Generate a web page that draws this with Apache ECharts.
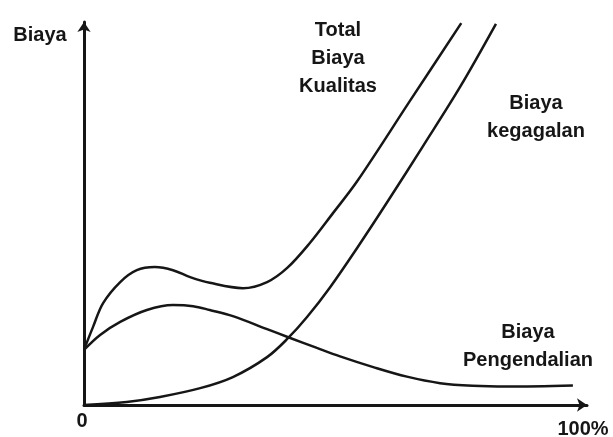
<!DOCTYPE html>
<html>
<head>
<meta charset="utf-8">
<script src="https://cdn.jsdelivr.net/npm/echarts@6/dist/echarts.min.js"></script>
<style>
  html, body { margin: 0; padding: 0; background: #fff; }
  #chart { width: 613px; height: 437px; }
</style>
</head>
<body>
<div id="chart"></div>
<script>
// [x (% of output), y (cost, arbitrary units)]
const totalBiayaKualitas = [
  [0, 14.4], [1.8, 20.4], [3.8, 26.6], [7.2, 32.1], [10.5, 35.2], [14.1, 36.0],
  [17.7, 35.2], [21.1, 33.4], [25.0, 31.9], [31.6, 30.5], [36.4, 32.1], [40.4, 35.8],
  [44.9, 42.3], [49.5, 50.1], [54.3, 58.4], [64.8, 79.4], [75.0, 99.7]
]
const biayaKegagalan = [
  [0, 0], [8.5, 0.8], [15.1, 2.1], [23.1, 4.4], [29.6, 7.3], [36.4, 12.5],
  [40.6, 17.5], [44.3, 22.9], [48.9, 30.7], [54.3, 41.0], [60.2, 52.8],
  [67.4, 67.6], [74.8, 83.1], [81.9, 99.5]
]
const biayaPengendalian = [
  [0, 14.4], [3.2, 18.3], [7.2, 21.7], [12.5, 24.8], [17.7, 26.1], [21.7, 25.8],
  [25.0, 24.8], [29.6, 23.2], [36.4, 19.8], [40.6, 17.7], [46.3, 14.9], [50.9, 12.7],
  [57.5, 9.9], [64.2, 7.4], [70.8, 5.7], [77.3, 5.0], [84.1, 4.8], [97.2, 5.1]
]
const axisLabels = { y: 'Biaya', origin: '0', xEnd: '100%' }

const ink = '#161616'
const font = { fontFamily: 'Liberation Sans, Arial, sans-serif', fontWeight: 'bold', fontSize: 20, fill: ink }

const chart = echarts.init(document.getElementById('chart'))

function curve(name, data) {
  return {
    name, type: 'line', data, smooth: 0.35, symbol: 'none',
    lineStyle: { color: ink, width: 2.5 }, clip: false
  }
}

function label(text, x, y) {
  return {
    type: 'text', x, y,
    style: Object.assign({ text, align: 'center', verticalAlign: 'middle', lineHeight: 28 }, font)
  }
}

chart.setOption({
  animation: false,
  grid: { left: 84, right: 26, top: 22, bottom: 32 },
  xAxis: {
    type: 'value', min: 0, max: 100,
    axisLine: { lineStyle: { color: ink, width: 3 }, symbol: ['none', 'arrow'], symbolSize: [10, 10] },
    axisTick: { show: false }, axisLabel: { show: false }, splitLine: { show: false }
  },
  yAxis: {
    type: 'value', min: 0, max: 100,
    axisLine: { show: true, lineStyle: { color: ink, width: 3 }, symbol: ['none', 'arrow'], symbolSize: [10, 10] },
    axisTick: { show: false }, axisLabel: { show: false }, splitLine: { show: false }
  },
  series: [
    curve('Total Biaya Kualitas', totalBiayaKualitas),
    curve('Biaya kegagalan', biayaKegagalan),
    curve('Biaya Pengendalian', biayaPengendalian)
  ],
  graphic: [
    label(axisLabels.y, 40, 35),
    label(axisLabels.origin, 82, 421),
    label(axisLabels.xEnd, 583, 429),
    label('Total\nBiaya\nKualitas', 338, 58),
    label('Biaya\nkegagalan', 536, 117),
    label('Biaya\nPengendalian', 528, 346)
  ]
})
</script>
</body>
</html>
